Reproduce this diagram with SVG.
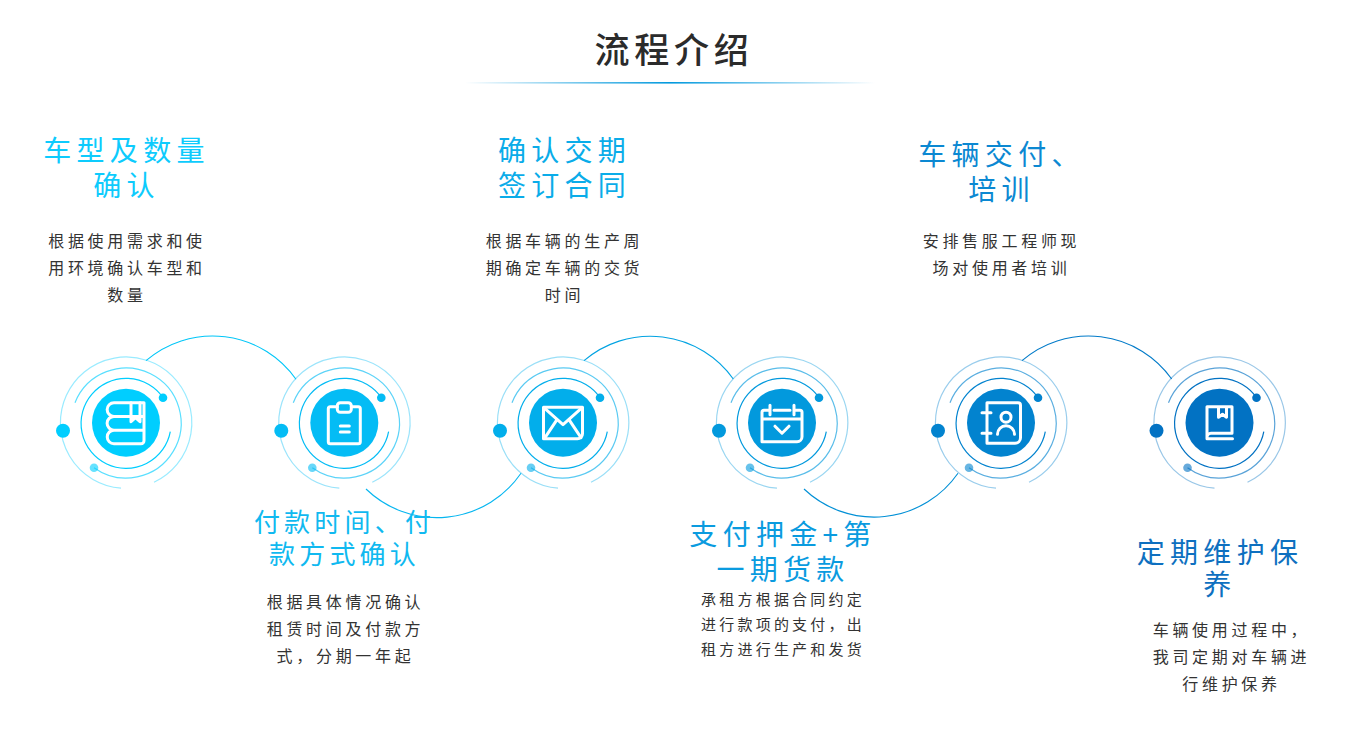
<svg xmlns="http://www.w3.org/2000/svg" width="1358" height="730" viewBox="0 0 1358 730">
<style>
text{font-family:"Noto Sans CJK SC","Noto Sans",sans-serif;text-anchor:middle}
.t{font-size:35px;font-weight:500;fill:#2b2b2b;letter-spacing:4.700px}
.h{font-size:28px;letter-spacing:5.300px}
.h2{font-size:26px;letter-spacing:4.200px}
.b{font-size:16px;fill:#333;letter-spacing:3.700px}
.b2{font-size:15px;fill:#333;letter-spacing:3.200px}
.r{fill:none;stroke:currentColor}
.i{fill:none;stroke:#fff;stroke-width:3;stroke-linecap:round;stroke-linejoin:round}
</style>
<defs>
<linearGradient id="u"><stop offset="0" stop-color="#0299dd" stop-opacity="0"/><stop offset=".5" stop-color="#0299dd"/><stop offset="1" stop-color="#0299dd" stop-opacity="0"/></linearGradient>
<g id="rings">
<path class="r" stroke-width="1.200" d="M37-25A45 45 0 1 0 44.300 9"/>
<path class="r" stroke-width="1.200" opacity=".65" d="M-51-20A55 55 0 1 1-32 45"/>
<path class="r" stroke-width="1.200" opacity=".4" d="M-5 65.500A65.700 65.700 0 1 1 28 59.500"/>
<circle cx="-63" cy="8" r="7" fill="currentColor"/>
<circle cx="37" cy="-25" r="4.300" fill="currentColor"/>
<circle cx="-32" cy="45" r="4.300" fill="currentColor" opacity=".6"/>
<circle r="34" fill="currentColor"/>
</g>
</defs>
<rect width="1358" height="730" fill="#fff"/>
<g id="title">
<text class="t" x="674" y="63">流程介绍</text>
<rect x="465" y="82" width="410" height="1.600" fill="url(#u)"/>
</g>
<g id="connectors" fill="none" stroke-width="1.100">
<path stroke="#00c6f8" d="M146 360.700A102 102 0 0 1 296 379.300"/>
<path stroke="#06b6f0" d="M366 489A102 102 0 0 0 521 473.300"/>
<path stroke="#02a3e2" d="M584 360.700A102 102 0 0 1 733.300 379"/>
<path stroke="#0290d6" d="M804 489A102 102 0 0 0 958 473.300"/>
<path stroke="#027bc9" d="M1022 360.700A102 102 0 0 1 1171.700 379"/>
</g>
<g id="node1" color="#00ceff">
<use href="#rings" x="126" y="422.700"/>
<g class="i" transform="translate(126 422.700)"><path d="M18-20H-12a6.800 6.800 0 0 0 0 13.700H18V-20ZM-12-6.300a6.800 6.800 0 0 0 0 13.800H18V-6.300M-12 7.500a6.700 6.700 0 0 0 0 13.500H15a3 3 0 0 0 3-3V7.500"/><path d="M5-20V-1L9.500-5 14-1V-20"/></g>
<text class="h" x="126.500" y="161" fill="#0dcbfd">车型及数量</text><text class="h" x="126.500" y="196" fill="#0dcbfd">确认</text>
<text class="b" x="127" y="247">根据使用需求和使</text><text class="b" x="127" y="274">用环境确认车型和</text><text class="b" x="127" y="301">数量</text>
</g>
<g id="node2" color="#04bcf5">
<use href="#rings" x="344.300" y="422.700"/>
<g class="i" transform="translate(344.300 422.700)"><path d="M-7-16H-14a2 2 0 0 0-2 2V19a2 2 0 0 0 2 2H14a2 2 0 0 0 2-2V-14a2 2 0 0 0-2-2H7"/><rect x="-7" y="-20" width="14" height="9.500" rx="3"/><path d="M-4 3.300H5M-4 9.300H5"/></g>
<text class="h2" x="344.500" y="532" fill="#10b9f0">付款时间、付</text><text class="h2" x="344.500" y="563.500" fill="#10b9f0">款方式确认</text>
<text class="b" x="345.500" y="608">根据具体情况确认</text><text class="b" x="345.500" y="635">租赁时间及付款方</text><text class="b" x="345.500" y="662">式，分期一年起</text>
</g>
<g id="node3" color="#02aeeb">
<use href="#rings" x="563" y="422.700"/>
<g class="i" transform="translate(563 422.700)"><path d="M-19.500-15.500H19.500V11a5 5 0 0 1-5 5H-19.500Z"/><path d="M-18-14 0 2 18-14M-18 15-6-3M18 15 6-3"/></g>
<text class="h" x="564.500" y="161" fill="#0aace9">确认交期</text><text class="h" x="564.500" y="196" fill="#0aace9">签订合同</text>
<text class="b" x="564.500" y="247">根据车辆的生产周</text><text class="b" x="564.500" y="274">期确定车辆的交货</text><text class="b" x="564.500" y="301">时间</text>
</g>
<g id="node4" color="#0299dd">
<use href="#rings" x="782" y="422.700"/>
<g class="i" transform="translate(782 422.700)"><path d="M-13-12.500H-18a2 2 0 0 0-2 2V19H15a5 5 0 0 0 5-5V-10.500a2 2 0 0 0-2-2H13M-8-12.500H8M-20-3.700H20M-12-17.500V-8M12-17.500V-8M-7 3.500 0 10.500 7 3.500"/></g>
<text class="h" x="783" y="544.500" fill="#0a9bdf">支付押金+第</text><text class="h" x="783" y="579.500" fill="#0a9bdf">一期货款</text>
<text class="b2" x="783" y="605">承租方根据合同约定</text><text class="b2" x="783" y="630">进行款项的支付，出</text><text class="b2" x="783" y="655">租方进行生产和发货</text>
</g>
<g id="node5" color="#0283cf">
<use href="#rings" x="1001" y="422.700"/>
<g class="i" transform="translate(1001 422.700)"><path d="M-14-20H17a2.500 2.500 0 0 1 2.500 2.500V15a5.500 5.500 0 0 1-5.500 5.500H-14ZM-19-10H-10M-19 10.500H-10"/><circle cx="5" cy="-5.500" r="5"/><path d="M-3.500 11.500a8.500 8.500 0 0 1 17 0"/></g>
<text class="h" x="1001.500" y="165" fill="#0b88d2">车辆交付、</text><text class="h" x="1001.500" y="199.500" fill="#0b88d2">培训</text>
<text class="b" x="1001.500" y="247">安排售服工程师现</text><text class="b" x="1001.500" y="274">场对使用者培训</text>
</g>
<g id="node6" color="#0272c3">
<use href="#rings" x="1219.500" y="422.700"/>
<g class="i" transform="translate(1219.500 422.700)"><path d="M12.500 10.500V-16H-12.500V16H13M12.500 10.500H-8.500A4 4 0 0 0-12.500 14.500M-1-16V-5.500L3-8.500 7-5.500V-16"/></g>
<text class="h" x="1220" y="563" fill="#0e70c0">定期维护保</text><text class="h" x="1220" y="595" fill="#0e70c0">养</text>
<text class="b" x="1231.500" y="636">车辆使用过程中，</text><text class="b" x="1231.500" y="663">我司定期对车辆进</text><text class="b" x="1231.500" y="690">行维护保养</text>
</g>
</svg>
